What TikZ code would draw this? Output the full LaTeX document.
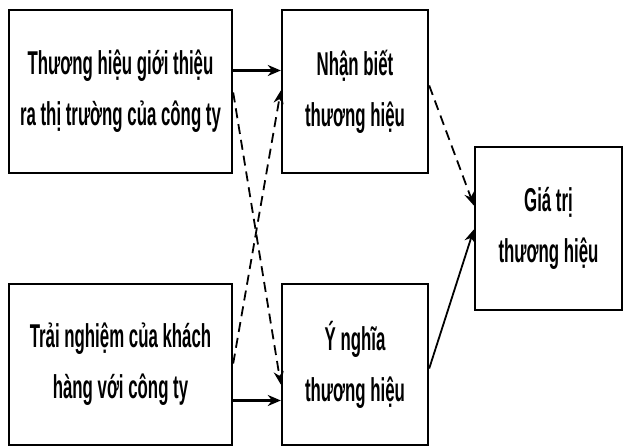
\documentclass[tikz,border=0pt]{standalone}
\usepackage{fontspec}
\setmainfont{Liberation Sans}[FakeStretch=0.51]
\usetikzlibrary{arrows.meta}

\tikzset{
  box/.style={draw=black, line width=2.4pt, fill=white, align=center,
    font=\fontsize{33}{51}\selectfont\bfseries, inner sep=0pt},
  solidarrow/.style={-{Stealth[length=13pt,width=11pt]}, line width=2.6pt},
  dasharrow/.style={-{Stealth[length=13pt,width=10pt]}, line width=1.8pt,
    dash pattern=on 10pt off 6pt}
}

\begin{document}
\begin{tikzpicture}[x=1pt,y=-1pt]
\useasboundingbox (0,0) rectangle (626,447);

% Boxes (pixel grid of the reference)
\node[box, minimum width=223pt, minimum height=163pt] (intro) at (120.5,91.5)
  {Thương hiệu giới thiệu\\ra thị trường của công ty};
\node[box, minimum width=146pt, minimum height=163pt] (aware) at (355,91.5)
  {Nhận biết\\thương hiệu};
\node[box, minimum width=223pt, minimum height=161pt] (exper) at (120.5,364.5)
  {Trải nghiệm của khách\\hàng với công ty};
\node[box, minimum width=146pt, minimum height=161pt] (mean) at (355,364.5)
  {Ý nghĩa\\thương hiệu};
\node[box, minimum width=147pt, minimum height=163pt] (value) at (548.5,228.5)
  {Giá trị\\thương hiệu};

% Connectors
\draw[solidarrow] ([yshift=21pt]intro.east) -- ([yshift=21pt]aware.west);
\draw[solidarrow] ([yshift=-36pt]exper.east) -- ([yshift=-36pt]mean.west);
\draw[dasharrow] ([yshift=-1pt]intro.east) -- ([yshift=-20pt]mean.west);
\draw[dasharrow] ([yshift=1pt]exper.east) -- ([yshift=1pt]aware.west);
\draw[dasharrow] ([yshift=6pt]aware.east) -- ([yshift=23pt]value.west);
\draw[solidarrow, line width=1.8pt] ([yshift=-4pt]mean.east) -- ([yshift=-1pt]value.west);
\end{tikzpicture}
\end{document}
